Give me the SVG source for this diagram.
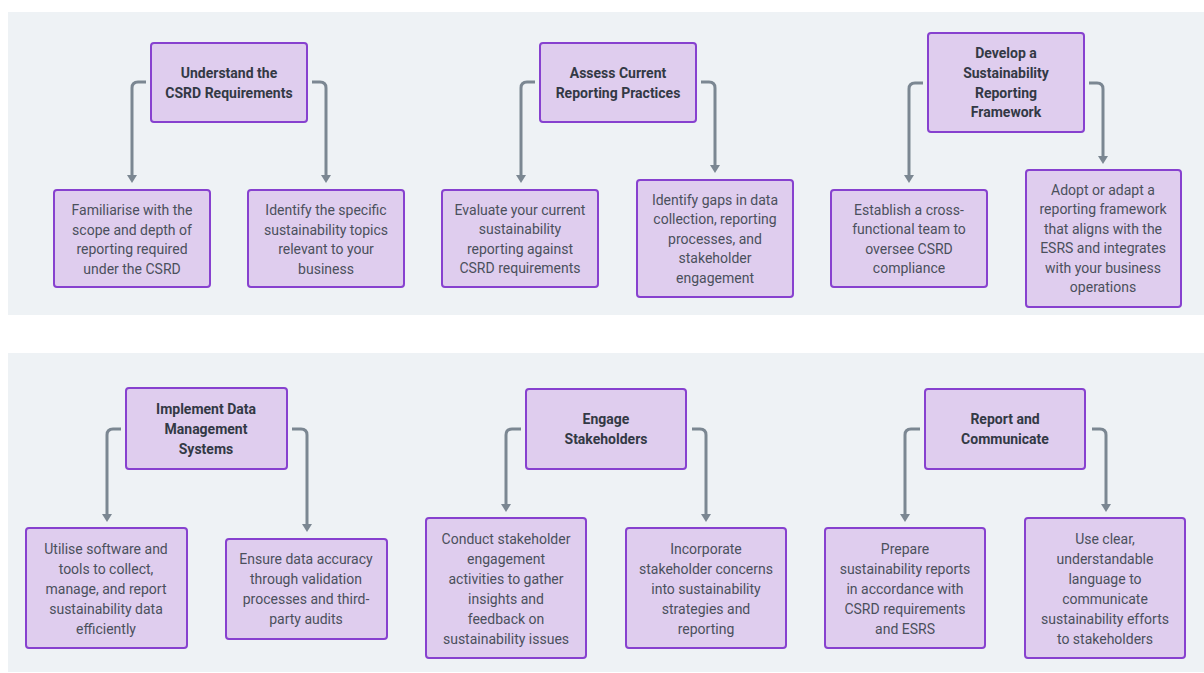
<svg xmlns="http://www.w3.org/2000/svg" width="1204" height="673" viewBox="0 0 1204 673">
<defs>
<style>
.panel{fill:#eef2f5}
.box{fill:#dfcdee;stroke:#8741cf;stroke-width:2}
.t{font-family:Roboto,"Liberation Sans",sans-serif;font-size:14px;fill:#4b505c;text-anchor:middle}
.h{font-family:Roboto,"Liberation Sans",sans-serif;font-size:14px;font-weight:bold;fill:#333945;text-anchor:middle}
.c{fill:none;stroke:#7b8792;stroke-width:3}
</style>
<marker id="ah" markerUnits="userSpaceOnUse" viewBox="0 -5 8 10" refX="0" refY="0" markerWidth="8" markerHeight="10" orient="auto">
<path d="M0,-5 L8,0 L0,5 z" fill="#7b8792"/>
</marker>
</defs>
<rect width="1204" height="673" fill="#ffffff"/>
<rect class="panel" x="8" y="12" width="1196" height="303"/>
<rect class="panel" x="8" y="353" width="1196" height="319"/>

<g id="connectors">
<path class="c" marker-end="url(#ah)" d="M146,82 H138 Q132,82 132,88 V175"/>
<path class="c" marker-end="url(#ah)" d="M312,82 H320 Q326,82 326,88 V175"/>
<path class="c" marker-end="url(#ah)" d="M535,82 H527 Q521,82 521,88 V175"/>
<path class="c" marker-end="url(#ah)" d="M701,82 H709 Q715,82 715,88 V165"/>
<path class="c" marker-end="url(#ah)" d="M923,83 H915 Q909,83 909,89 V175"/>
<path class="c" marker-end="url(#ah)" d="M1089,83 H1097 Q1103,83 1103,89 V156"/>
<path class="c" marker-end="url(#ah)" d="M121,429 H113 Q107,429 107,435 V514"/>
<path class="c" marker-end="url(#ah)" d="M292,429 H301 Q307,429 307,435 V524"/>
<path class="c" marker-end="url(#ah)" d="M521,429 H512 Q506,429 506,435 V504"/>
<path class="c" marker-end="url(#ah)" d="M692,429 H700 Q706,429 706,435 V514"/>
<path class="c" marker-end="url(#ah)" d="M920,429 H911 Q905,429 905,435 V514"/>
<path class="c" marker-end="url(#ah)" d="M1092,429 H1100 Q1106,429 1106,435 V504"/>
</g>

<g id="n1">
<rect class="box" x="151" y="43" width="156" height="79" rx="3"/>
<text class="h" x="229" y="78">Understand the</text>
<text class="h" x="229" y="98">CSRD Requirements</text>
</g>
<g id="n1a">
<rect class="box" x="54" y="190" width="156" height="97" rx="3"/>
<text class="t" x="132" y="215">Familiarise with the</text>
<text class="t" x="132" y="235">scope and depth of</text>
<text class="t" x="132" y="254">reporting required</text>
<text class="t" x="132" y="274">under the CSRD</text>
</g>
<g id="n1b">
<rect class="box" x="248" y="190" width="156" height="97" rx="3"/>
<text class="t" x="326" y="215">Identify the specific</text>
<text class="t" x="326" y="235">sustainability topics</text>
<text class="t" x="326" y="254">relevant to your</text>
<text class="t" x="326" y="274">business</text>
</g>

<g id="n2">
<rect class="box" x="540" y="43" width="156" height="79" rx="3"/>
<text class="h" x="618" y="78">Assess Current</text>
<text class="h" x="618" y="98">Reporting Practices</text>
</g>
<g id="n2a">
<rect class="box" x="442" y="190" width="156" height="97" rx="3"/>
<text class="t" x="520" y="215">Evaluate your current</text>
<text class="t" x="520" y="234">sustainability</text>
<text class="t" x="520" y="254">reporting against</text>
<text class="t" x="520" y="273">CSRD requirements</text>
</g>
<g id="n2b">
<rect class="box" x="637" y="180" width="156" height="117" rx="3"/>
<text class="t" x="715" y="205">Identify gaps in data</text>
<text class="t" x="715" y="224">collection, reporting</text>
<text class="t" x="715" y="244">processes, and</text>
<text class="t" x="715" y="263">stakeholder</text>
<text class="t" x="715" y="283">engagement</text>
</g>

<g id="n3">
<rect class="box" x="928" y="33" width="156" height="99" rx="3"/>
<text class="h" x="1006" y="58">Develop a</text>
<text class="h" x="1006" y="78">Sustainability</text>
<text class="h" x="1006" y="98">Reporting</text>
<text class="h" x="1006" y="117">Framework</text>
</g>
<g id="n3a">
<rect class="box" x="831" y="190" width="156" height="97" rx="3"/>
<text class="t" x="909" y="215">Establish a cross-</text>
<text class="t" x="909" y="234">functional team to</text>
<text class="t" x="909" y="254">oversee CSRD</text>
<text class="t" x="909" y="273">compliance</text>
</g>
<g id="n3b">
<rect class="box" x="1026" y="170" width="155" height="137" rx="3"/>
<text class="t" x="1103" y="195">Adopt or adapt a</text>
<text class="t" x="1103" y="214">reporting framework</text>
<text class="t" x="1103" y="234">that aligns with the</text>
<text class="t" x="1103" y="253">ESRS and integrates</text>
<text class="t" x="1103" y="273">with your business</text>
<text class="t" x="1103" y="292">operations</text>
</g>

<g id="n4">
<rect class="box" x="126" y="388" width="161" height="81" rx="3"/>
<text class="h" x="206" y="414">Implement Data</text>
<text class="h" x="206" y="434">Management</text>
<text class="h" x="206" y="454">Systems</text>
</g>
<g id="n4a">
<rect class="box" x="26" y="528" width="161" height="120" rx="3"/>
<text class="t" x="106" y="554">Utilise software and</text>
<text class="t" x="106" y="574">tools to collect,</text>
<text class="t" x="106" y="594">manage, and report</text>
<text class="t" x="106" y="614">sustainability data</text>
<text class="t" x="106" y="634">efficiently</text>
</g>
<g id="n4b">
<rect class="box" x="226" y="539" width="161" height="100" rx="3"/>
<text class="t" x="306" y="564">Ensure data accuracy</text>
<text class="t" x="306" y="584">through validation</text>
<text class="t" x="306" y="604">processes and third-</text>
<text class="t" x="306" y="624">party audits</text>
</g>

<g id="n5">
<rect class="box" x="526" y="389" width="160" height="80" rx="3"/>
<text class="h" x="606" y="424">Engage</text>
<text class="h" x="606" y="444">Stakeholders</text>
</g>
<g id="n5a">
<rect class="box" x="426" y="518" width="160" height="140" rx="3"/>
<text class="t" x="506" y="544">Conduct stakeholder</text>
<text class="t" x="506" y="564">engagement</text>
<text class="t" x="506" y="584">activities to gather</text>
<text class="t" x="506" y="604">insights and</text>
<text class="t" x="506" y="624">feedback on</text>
<text class="t" x="506" y="644">sustainability issues</text>
</g>
<g id="n5b">
<rect class="box" x="626" y="528" width="160" height="120" rx="3"/>
<text class="t" x="706" y="554">Incorporate</text>
<text class="t" x="706" y="574">stakeholder concerns</text>
<text class="t" x="706" y="594">into sustainability</text>
<text class="t" x="706" y="614">strategies and</text>
<text class="t" x="706" y="634">reporting</text>
</g>

<g id="n6">
<rect class="box" x="925" y="389" width="160" height="80" rx="3"/>
<text class="h" x="1005" y="424">Report and</text>
<text class="h" x="1005" y="444">Communicate</text>
</g>
<g id="n6a">
<rect class="box" x="825" y="528" width="160" height="120" rx="3"/>
<text class="t" x="905" y="554">Prepare</text>
<text class="t" x="905" y="574">sustainability reports</text>
<text class="t" x="905" y="594">in accordance with</text>
<text class="t" x="905" y="614">CSRD requirements</text>
<text class="t" x="905" y="634">and ESRS</text>
</g>
<g id="n6b">
<rect class="box" x="1025" y="518" width="160" height="140" rx="3"/>
<text class="t" x="1105" y="544">Use clear,</text>
<text class="t" x="1105" y="564">understandable</text>
<text class="t" x="1105" y="584">language to</text>
<text class="t" x="1105" y="604">communicate</text>
<text class="t" x="1105" y="624">sustainability efforts</text>
<text class="t" x="1105" y="644">to stakeholders</text>
</g>
</svg>
